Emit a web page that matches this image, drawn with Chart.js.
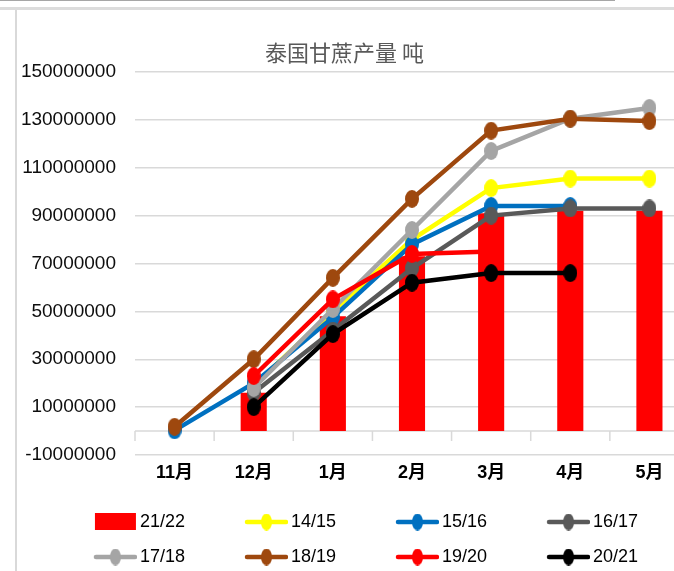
<!DOCTYPE html>
<html>
<head>
<meta charset="utf-8">
<title>泰国甘蔗产量</title>
<script src="https://cdn.jsdelivr.net/npm/chart.js@4.4.1/dist/chart.umd.min.js"></script>
<style>
    body { margin: 0; width: 674px; height: 571px; overflow: hidden; background: #fff; position: relative; }
    #chart { position: absolute; left: 0; top: 0; }
    .frame { position: absolute; }
    #top-dark { left: 0; top: 0; width: 615px; height: 1px; background: #a6a6a6; }
    #top-band { left: 0; top: 7px; width: 674px; height: 3px; background: #dcdcdc; }
    #left-band { left: 15px; top: 10px; width: 2px; height: 561px; background: #d9d9d9; }
</style>
</head>
<body>
<canvas id="chart" width="706" height="580"></canvas>
<div class="frame" id="top-dark"></div>
<div class="frame" id="top-band"></div>
<div class="frame" id="left-band"></div>
<script>
const months = ['11月', '12月', '1月', '2月', '3月', '4月', '5月'];
const yTicks = { min: -10000000, max: 150000000, step: 20000000 };

// 21/22 drawn as bars, the other seasons as lines
const s2122 = [null, 16000000, 48000000, 73000000, 91000000, 92000000, 92000000];
const s1415 = [null, 19000000, 50000000, 80000000, 101500000, 105500000, 105500000];
const s1516 = [300000, 20000000, 47500000, 78000000, 94000000, 94000000, null];
const s1617 = [null, 16000000, 42000000, 68000000, 90000000, 93000000, 93000000];
const s1718 = [null, 18000000, 51000000, 84000000, 117000000, 130500000, 135000000];
const s1819 = [1800000, 30000000, 64000000, 97000000, 125500000, 130500000, 129500000];
const s1920 = [null, 23000000, 55000000, 74000000, 75000000, null, null];
const s2021 = [null, 10000000, 40500000, 62000000, 66000000, 66000000, null];

const lineSeries = [
    { label: '14/15', data: s1415, color: '#FFFF00' },
    { label: '15/16', data: s1516, color: '#0070C0' },
    { label: '16/17', data: s1617, color: '#595959' },
    { label: '17/18', data: s1718, color: '#A5A5A5' },
    { label: '18/19', data: s1819, color: '#9E480E' },
    { label: '19/20', data: s1920, color: '#FF0000' },
    { label: '20/21', data: s2021, color: '#000000' }
];

const latin = "'Liberation Sans', 'Noto Sans CJK SC', sans-serif";
const ICON_SLOT = 80;

// tall oval marker, like the Excel original
function oval(color, w, h) {
    const c = document.createElement('canvas');
    c.width = w;
    c.height = h;
    const g = c.getContext('2d');
    g.fillStyle = color;
    g.beginPath();
    g.ellipse(w / 2, h / 2, w / 2, h / 2, 0, 0, Math.PI * 2);
    g.fill();
    return c;
}

// legend icon: blank lead-in then the sample at the right end
function legendIcon(color, isBar) {
    const c = document.createElement('canvas');
    c.width = ICON_SLOT + 12;
    c.height = 22;
    const g = c.getContext('2d');
    const x0 = c.width - 43;
    if (isBar) {
        g.fillStyle = color;
        g.fillRect(x0 + 1, 2, 41, 17);
    } else {
        g.strokeStyle = color;
        g.lineWidth = 4.5;
        g.lineCap = 'round';
        g.beginPath();
        g.moveTo(x0 + 2, 11);
        g.lineTo(x0 + 41, 11);
        g.stroke();
        g.drawImage(oval(color, 11, 17), x0 + 16, 2.5);
    }
    return c;
}

const zeroAxis = {
    id: 'zeroAxis',
    beforeDatasetsDraw(chart) {
        const { ctx, chartArea, scales: { x, y } } = chart;
        const y0 = y.getPixelForValue(0);
        const half = (x.getPixelForValue(1) - x.getPixelForValue(0)) / 2;
        ctx.save();
        ctx.strokeStyle = '#d9d9d9';
        ctx.lineWidth = 1.5;
        ctx.beginPath();
        ctx.moveTo(chartArea.left, y0);
        ctx.lineTo(chartArea.right, y0);
        for (let i = 0; i <= months.length; i++) {
            const bx = x.getPixelForValue(i) - half;
            ctx.moveTo(bx, y0);
            ctx.lineTo(bx, y0 + 10);
        }
        ctx.stroke();
        ctx.restore();
    }
};

document.addEventListener('DOMContentLoaded', () => {
    const ctx = document.getElementById('chart').getContext('2d');

    const datasets = [{
        type: 'bar',
        label: '21/22',
        data: s2122,
        backgroundColor: '#FF0000',
        barPercentage: 0.33,
        categoryPercentage: 1,
        order: 10,
        icon: legendIcon('#FF0000', true)
    }];
    lineSeries.forEach((s, i) => {
        datasets.push({
            type: 'line',
            label: s.label,
            data: s.data,
            borderColor: s.color,
            backgroundColor: s.color,
            borderWidth: 4.5,
            pointStyle: oval(s.color, 14, 18),
            pointRadius: 7,
            tension: 0,
            order: lineSeries.length - i,
            icon: legendIcon(s.color, false)
        });
    });

    new Chart(ctx, {
        type: 'bar',
        data: { labels: months, datasets: datasets },
        options: {
            responsive: false,
            animation: false,
            devicePixelRatio: 1,
            layout: { padding: { left: 0, right: 17, top: 0, bottom: 4 } },
            plugins: {
                tooltip: { enabled: false },
                title: {
                    display: true,
                    text: '泰国甘蔗产量 吨',
                    color: '#595959',
                    font: { family: "'Noto Sans CJK SC', sans-serif", size: 22, weight: 'normal' },
                    padding: { top: 39, bottom: 6.6 }
                },
                legend: {
                    position: 'bottom',
                    labels: {
                        usePointStyle: true,
                        pointStyleWidth: ICON_SLOT,
                        padding: 17,
                        color: '#595959',
                        font: { family: latin, size: 18 },
                        generateLabels: (chart) => chart.data.datasets.map((ds, i) => ({
                            text: ds.label,
                            pointStyle: ds.icon,
                            fillStyle: ds.backgroundColor,
                            strokeStyle: 'transparent',
                            lineWidth: 0,
                            hidden: false,
                            datasetIndex: i
                        }))
                    }
                }
            },
            scales: {
                x: {
                    grid: { display: false, drawTicks: false },
                    border: { display: false },
                    ticks: {
                        color: '#000',
                        padding: 7,
                        font: { family: latin, size: 18, weight: 'bold' }
                    },
                    afterFit: (scale) => { scale.height = 41; }
                },
                y: {
                    min: yTicks.min,
                    max: yTicks.max,
                    grid: { color: '#d9d9d9', lineWidth: 1.5, drawTicks: false },
                    border: { display: false },
                    ticks: {
                        stepSize: yTicks.step,
                        padding: 19,
                        color: '#0d0d0d',
                        font: { family: latin, size: 19 },
                        callback: (v) => String(v)
                    },
                    afterFit: (scale) => { scale.width = 135; }
                }
            }
        },
        plugins: [zeroAxis]
    });
});
</script>
</body>
</html>
